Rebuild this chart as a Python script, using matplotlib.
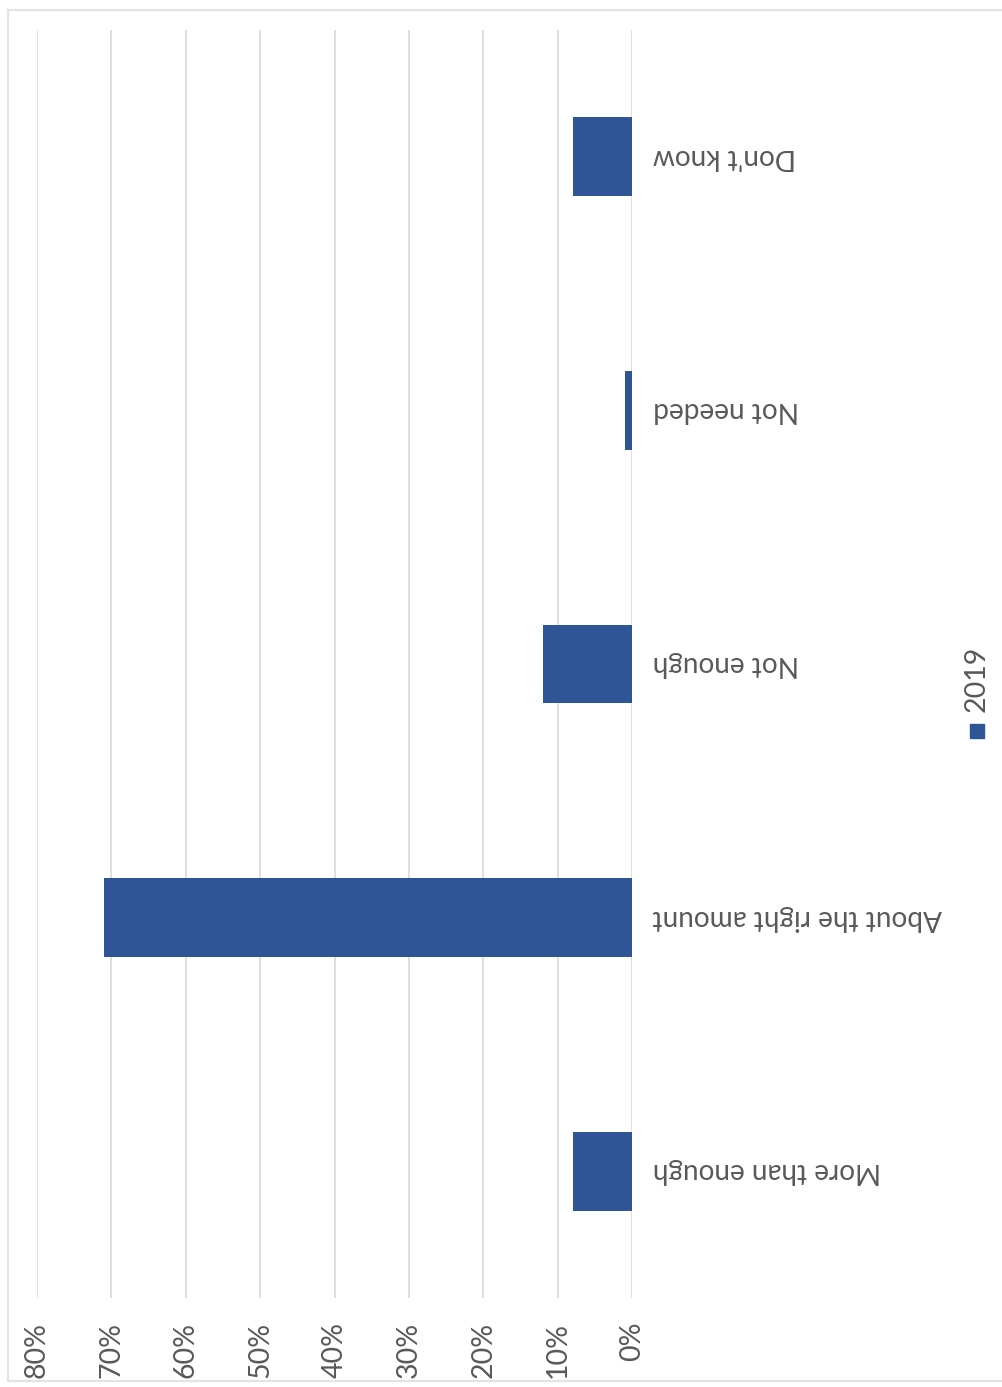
import matplotlib.pyplot as plt
from matplotlib.patches import Rectangle
from matplotlib.lines import Line2D
import numpy as np

# survey answers, bottom to top
categories = ["More than enough", "About the right amount", "Not enough", "Not needed", "Don't know"]
shares_2019 = [8, 71, 12, 1, 8]  # percent
series_name = "2019"
tick_values = [80, 70, 60, 50, 40, 30, 20, 10, 0]

blue = "#2f5597"
grey_text = "#595959"
grid_col = "#d9d9d9"

plt.rcParams['font.family'] = ['Lato', 'DejaVu Sans']

W, H = 1002, 1387
fig = plt.figure(figsize=(W / 100, H / 100), dpi=100)

# plot area in pixel terms, converted to figure fractions
left, right, top, bottom = 37, 632, 30, 1298
ax = fig.add_axes([left / W, 1 - bottom / H, (right - left) / W, (bottom - top) / H])

y = np.arange(len(categories))
ax.barh(y, shares_2019, height=0.31, color=blue, zorder=3)

ax.set_xlim(80, 0)
ax.set_ylim(-0.5, len(categories) - 0.5)

ax.set_xticks(tick_values)
ax.set_xticklabels([f"{v}%" for v in tick_values], rotation=90, color=grey_text, fontsize=20.5)
ax.tick_params(axis='x', length=0, pad=17)
ax.grid(axis='x', color=grid_col, linewidth=1.2, zorder=0)

ax.set_yticks(y)
ax.set_yticklabels(categories, rotation=180, color=grey_text, fontsize=20.2, va='center')
ax.tick_params(axis='y', length=0, pad=15, labelleft=False, labelright=True)

for s in ax.spines.values():
    s.set_visible(False)

# legend, turned on its side
fig.patches.append(Rectangle((970 / W, 1 - 738 / H), 14 / W, 14 / H,
                             transform=fig.transFigure, color=blue))
fig.text(977 / W, 1 - 712 / H, series_name, rotation=90, ha='center', va='bottom',
         color=grey_text, fontsize=20.5)

# chart frame
for xs, ys in [([8, 8], [10, 1381]), ([8, W], [10, 10]), ([8, W], [1381, 1381])]:
    fig.lines.append(Line2D([x / W for x in xs], [1 - v / H for v in ys],
                            transform=fig.transFigure, color="#e3e3e3", linewidth=1.5))

fig.savefig("out.png", dpi=100, facecolor="white")
